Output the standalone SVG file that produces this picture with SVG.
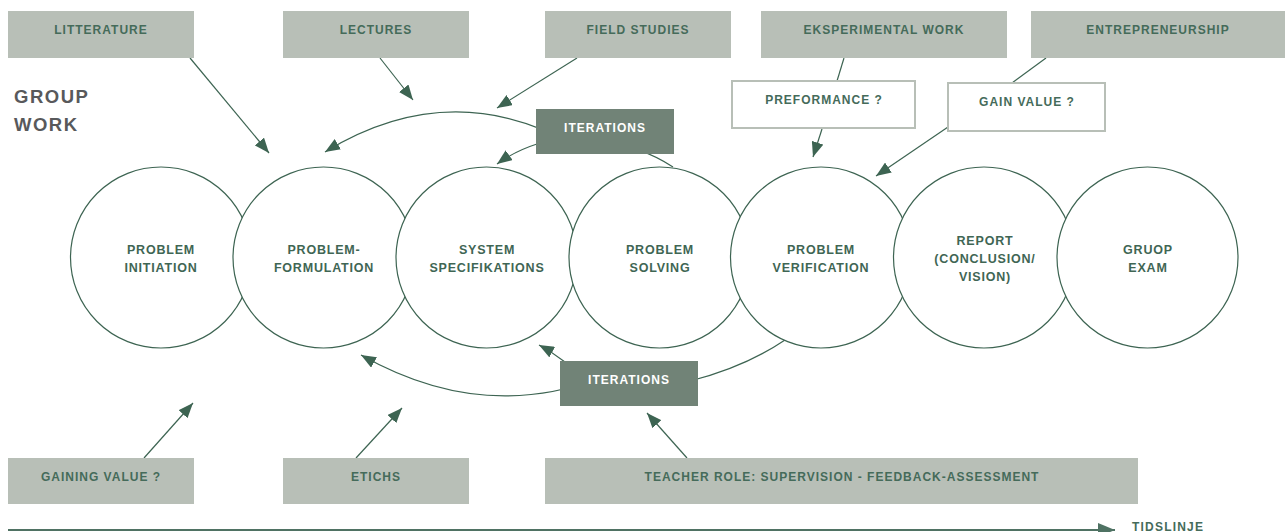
<svg xmlns="http://www.w3.org/2000/svg" width="1285" height="532" viewBox="0 0 1285 532">
<defs>
<style>
.box{fill:#b8bfb7}
.obox{fill:#ffffff;stroke:#b8bfb7;stroke-width:2}
.ibox{fill:#718377}
.t{font-family:"Liberation Sans",Arial,sans-serif;font-weight:bold;font-size:12px;letter-spacing:1px;fill:#456b5a;text-anchor:middle}
.ct{font-family:"Liberation Sans",Arial,sans-serif;font-weight:bold;font-size:12.5px;letter-spacing:0.8px;fill:#3f6654;text-anchor:middle}
.it{font-family:"Liberation Sans",Arial,sans-serif;font-weight:bold;font-size:12px;letter-spacing:1px;fill:#ffffff;text-anchor:middle}
.gw{font-family:"Liberation Sans",Arial,sans-serif;font-weight:bold;font-size:18.5px;letter-spacing:1.5px;fill:#58595b}
.c{fill:#ffffff;stroke:#3d6452;stroke-width:1.2}
.ln{fill:none;stroke:#3d6452;stroke-width:1.2}
.tl{fill:none;stroke:#4f7263;stroke-width:2}
</style>
<marker id="ah" markerUnits="userSpaceOnUse" markerWidth="16" markerHeight="12" refX="15" refY="6" orient="auto">
<path d="M0,0 L15,6 L0,12 z" fill="#3d6452"/>
</marker>
<marker id="ahT" markerUnits="userSpaceOnUse" markerWidth="18" markerHeight="14" refX="17" refY="7" orient="auto">
<path d="M0,0 L17,7 L0,14 z" fill="#4f7263"/>
</marker>
</defs>

<text class="gw" x="14" y="103">GROUP</text>
<text class="gw" x="14" y="131">WORK</text>

<g id="connectors">
<path class="ln" d="M190,58 L269,153" marker-end="url(#ah)"/>
<path class="ln" d="M380,58 L413,100" marker-end="url(#ah)"/>
<path class="ln" d="M577,58 L497,108" marker-end="url(#ah)"/>
<path class="ln" d="M673,167 Q625,136 580,148 Q452.5,74 325,152" marker-end="url(#ah)"/>
<path class="ln" d="M537,144 Q515,151 497,164" marker-end="url(#ah)"/>
<path class="ln" d="M844,58 L837,81"/>
<path class="ln" d="M822,129 L813,157" marker-end="url(#ah)"/>
<path class="ln" d="M1046,58 L1012,83"/>
<path class="ln" d="M948,127 L876,176" marker-end="url(#ah)"/>
<path class="ln" d="M144,458 L193,403" marker-end="url(#ah)"/>
<path class="ln" d="M356,458 L402,408" marker-end="url(#ah)"/>
<path class="ln" d="M687,458 L647,413" marker-end="url(#ah)"/>
<path class="ln" d="M785,340 Q745,367 690,381 L600,378 Q481,423 361,355" marker-end="url(#ah)"/>
<path class="ln" d="M565,362 Q552,352 539,345" marker-end="url(#ah)"/>
<path class="tl" d="M8,530 L1115,530" marker-end="url(#ahT)"/>
</g>

<g id="c1"><circle class="c" cx="161" cy="257.5" r="90.5"/><text class="ct" x="161" y="254">PROBLEM</text><text class="ct" x="161" y="272">INITIATION</text></g>
<g id="c2"><circle class="c" cx="323.5" cy="257.5" r="90.5"/><text class="ct" x="324" y="254">PROBLEM-</text><text class="ct" x="324" y="272">FORMULATION</text></g>
<g id="c3"><circle class="c" cx="486.5" cy="257.5" r="90.5"/><text class="ct" x="487" y="254">SYSTEM</text><text class="ct" x="487" y="272">SPECIFIKATIONS</text></g>
<g id="c4"><circle class="c" cx="659.5" cy="257.5" r="90.5"/><text class="ct" x="660" y="254">PROBLEM</text><text class="ct" x="660" y="272">SOLVING</text></g>
<g id="c5"><circle class="c" cx="821" cy="257.5" r="90.5"/><text class="ct" x="821" y="254">PROBLEM</text><text class="ct" x="821" y="272">VERIFICATION</text></g>
<g id="c6"><circle class="c" cx="984" cy="257.5" r="90.5"/><text class="ct" x="985" y="245">REPORT</text><text class="ct" x="985" y="263">(CONCLUSION/</text><text class="ct" x="985" y="281">VISION)</text></g>
<g id="c7"><circle class="c" cx="1147.5" cy="257.5" r="90.5"/><text class="ct" x="1148" y="254">GRUOP</text><text class="ct" x="1148" y="272">EXAM</text></g>

<g id="litterature"><rect class="box" x="8" y="11" width="186" height="47"/><text class="t" x="101" y="34">LITTERATURE</text></g>
<g id="lectures"><rect class="box" x="283" y="11" width="186" height="47"/><text class="t" x="376" y="34">LECTURES</text></g>
<g id="fieldstudies"><rect class="box" x="545" y="11" width="186" height="47"/><text class="t" x="638" y="34">FIELD STUDIES</text></g>
<g id="eksperimental"><rect class="box" x="761" y="11" width="246" height="47"/><text class="t" x="884" y="34">EKSPERIMENTAL WORK</text></g>
<g id="entrepreneurship"><rect class="box" x="1031" y="11" width="254" height="47"/><text class="t" x="1158" y="34">ENTREPRENEURSHIP</text></g>

<g id="preformance"><rect class="obox" x="732" y="81" width="183" height="47"/><text class="t" x="824" y="104">PREFORMANCE ?</text></g>
<g id="gainvalue"><rect class="obox" x="948" y="83" width="157" height="48"/><text class="t" x="1027" y="106">GAIN VALUE ?</text></g>

<g id="iterations-top"><rect class="ibox" x="536" y="109" width="138" height="45"/><text class="it" x="605" y="132">ITERATIONS</text></g>
<g id="iterations-bottom"><rect class="ibox" x="560" y="361" width="138" height="45"/><text class="it" x="629" y="384">ITERATIONS</text></g>

<g id="gainingvalue"><rect class="box" x="8" y="458" width="186" height="46"/><text class="t" x="101" y="481">GAINING VALUE ?</text></g>
<g id="etichs"><rect class="box" x="283" y="458" width="186" height="46"/><text class="t" x="376" y="481">ETICHS</text></g>
<g id="teacher"><rect class="box" x="545" y="458" width="593" height="46"/><text class="t" x="842" y="481">TEACHER ROLE: SUPERVISION - FEEDBACK-ASSESSMENT</text></g>

<g id="tidslinje"><text class="t" x="1132" y="531" style="text-anchor:start;letter-spacing:1.2px">TIDSLINJE</text></g>
</svg>
